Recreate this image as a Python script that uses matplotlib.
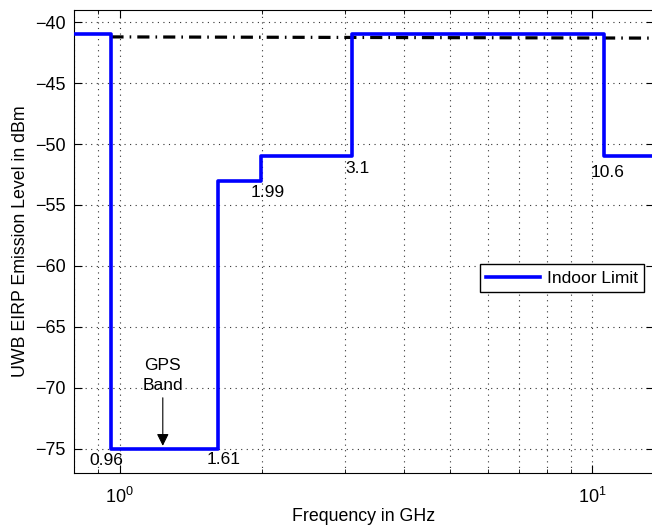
import matplotlib
matplotlib.use('Agg')
import matplotlib.pyplot as plt
from matplotlib.ticker import LogLocator, NullFormatter

plt.rcParams['font.family'] = ['Liberation Sans', 'DejaVu Sans']

# FCC indoor UWB emission mask (GHz, dBm)
edges = [0.8, 0.96, 1.61, 1.99, 3.1, 10.6, 13.5]
levels = [-41.0, -75.0, -53.0, -51.0, -41.0, -51.0]
part15_f = [0.96, 13.5]
part15_lvl = [-41.2, -41.3]

labels = ['0.96', '1.61', '1.99', '3.1', '10.6']
label_x = [0.935, 1.66, 2.06, 3.19, 10.74]
label_y = [-76.0, -75.9, -54.0, -52.0, -52.3]

fig = plt.figure(figsize=(6.52, 5.26), dpi=100)
ax = fig.add_axes([0.1135, 0.1008, 0.8896, 0.880])

ax.step(edges, levels + [levels[-1]], where='post', color=(0, 0, 1),
        lw=2.6, label='Indoor Limit', zorder=3)
ax.plot(part15_f, part15_lvl, color='k', lw=2.3, dashes=(3.8, 1.9, 0.5, 1.9),
        zorder=2)

ax.set_xscale('log')
ax.set_xlim(0.8, 13.5)
ax.set_ylim(-77, -39)
ax.set_yticks([-75, -70, -65, -60, -55, -50, -45, -40])
ax.set_yticklabels(['\u221275', '\u221270', '\u221265', '\u221260',
                    '\u221255', '\u221250', '\u221245', '\u221240'])
ax.xaxis.set_minor_locator(LogLocator(base=10, subs=range(2, 10)))
ax.xaxis.set_minor_formatter(NullFormatter())
ax.tick_params(which='both', direction='in', top=True, right=True,
               labelsize=13, pad=6)
ax.tick_params(axis='x', which='major', pad=10)
ax.tick_params(which='major', length=6)
ax.tick_params(which='minor', length=3)

ax.grid(True, which='major', dashes=(1, 4), color='0.2', lw=0.8)
ax.grid(True, which='minor', axis='x', dashes=(1, 4), color='0.2', lw=0.8)
ax.spines['right'].set_visible(False)

for t, x, y in zip(labels, label_x, label_y):
    ax.text(x, y, t, ha='center', va='center', fontsize=12.5)

ax.text(1.233, -69.0, 'GPS\nBand', ha='center', va='center', fontsize=12.5,
        linespacing=1.35)
ax.annotate('', xy=(1.233, -75.0), xytext=(1.233, -70.6),
            arrowprops=dict(arrowstyle='-|>', color='k', lw=0.8,
                            mutation_scale=18))

ax.set_xlabel('Frequency in GHz', fontsize=12.8, labelpad=1)
ax.set_ylabel('UWB EIRP Emission Level in dBm', fontsize=12.8, labelpad=4)

leg = ax.legend(loc='center right', bbox_to_anchor=(0.983, 0.421),
                borderaxespad=0, fontsize=12.5, handlelength=3.1,
                handletextpad=0.4, fancybox=False, framealpha=1,
                edgecolor='k', borderpad=0.35)
leg.get_frame().set_linewidth(1.0)

fig.savefig('out.png', dpi=100)
